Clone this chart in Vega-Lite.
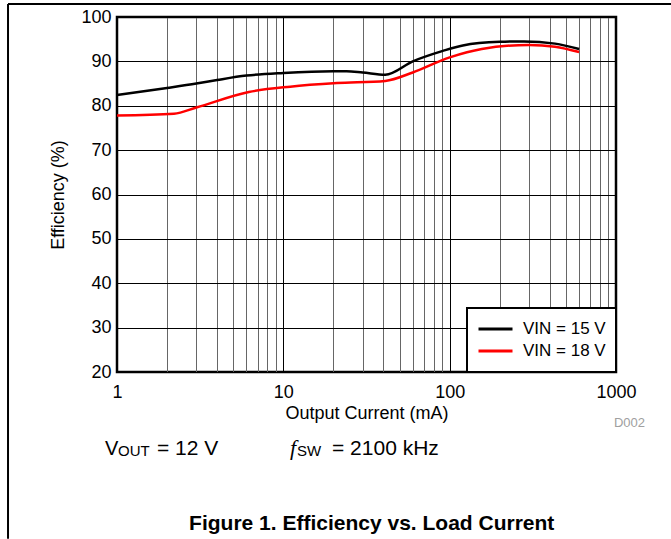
{
  "$schema": "https://vega.github.io/schema/vega-lite/v6.json",
  "width": 499,
  "height": 355,
  "autosize": {"type": "none"},
  "padding": {"left": 117, "top": 17, "right": 55, "bottom": 167},
  "background": "white",
  "config": {
    "view": {"stroke": "black", "strokeWidth": 2.5},
    "font": "Liberation Sans",
    "axis": {
      "labelFont": "Liberation Sans",
      "titleFont": "Liberation Sans",
      "labelFontSize": 18,
      "titleFontSize": 18,
      "titleFontWeight": "normal",
      "labelColor": "black",
      "titleColor": "black",
      "domain": false,
      "ticks": false
    }
  },
  "datasets": {
    "eff": [
      {"series": "VIN = 15 V", "current": 1, "efficiency": 82.4},
      {"series": "VIN = 15 V", "current": 2, "efficiency": 84.0},
      {"series": "VIN = 15 V", "current": 3, "efficiency": 85.0},
      {"series": "VIN = 15 V", "current": 4, "efficiency": 85.8},
      {"series": "VIN = 15 V", "current": 6, "efficiency": 86.8},
      {"series": "VIN = 15 V", "current": 10, "efficiency": 87.4},
      {"series": "VIN = 15 V", "current": 20, "efficiency": 87.8},
      {"series": "VIN = 15 V", "current": 24, "efficiency": 87.8},
      {"series": "VIN = 15 V", "current": 30, "efficiency": 87.5},
      {"series": "VIN = 15 V", "current": 41, "efficiency": 87.0},
      {"series": "VIN = 15 V", "current": 60, "efficiency": 90.0},
      {"series": "VIN = 15 V", "current": 90, "efficiency": 92.3},
      {"series": "VIN = 15 V", "current": 120, "efficiency": 93.6},
      {"series": "VIN = 15 V", "current": 200, "efficiency": 94.4},
      {"series": "VIN = 15 V", "current": 280, "efficiency": 94.5},
      {"series": "VIN = 15 V", "current": 430, "efficiency": 94.0},
      {"series": "VIN = 15 V", "current": 600, "efficiency": 92.8},
      {"series": "VIN = 18 V", "current": 1, "efficiency": 77.8},
      {"series": "VIN = 18 V", "current": 2.2, "efficiency": 78.2},
      {"series": "VIN = 18 V", "current": 3, "efficiency": 79.6},
      {"series": "VIN = 18 V", "current": 6.2, "efficiency": 83.1},
      {"series": "VIN = 18 V", "current": 11, "efficiency": 84.3},
      {"series": "VIN = 18 V", "current": 21, "efficiency": 85.1},
      {"series": "VIN = 18 V", "current": 41, "efficiency": 85.6},
      {"series": "VIN = 18 V", "current": 60, "efficiency": 87.5},
      {"series": "VIN = 18 V", "current": 100, "efficiency": 90.9},
      {"series": "VIN = 18 V", "current": 156, "efficiency": 92.8},
      {"series": "VIN = 18 V", "current": 300, "efficiency": 93.7},
      {"series": "VIN = 18 V", "current": 430, "efficiency": 93.3},
      {"series": "VIN = 18 V", "current": 600, "efficiency": 92.1}
    ]
  },
  "layer": [
    {
      "data": {"name": "eff"},
      "mark": {"type": "line", "strokeWidth": 2.5, "interpolate": "monotone"},
      "encoding": {
        "x": {
          "field": "current",
          "type": "quantitative",
          "scale": {"type": "log", "domain": [1, 1000]},
          "axis": {
            "title": "Output Current (mA)",
            "values": [1, 2, 3, 4, 5, 6, 7, 8, 9, 10, 20, 30, 40, 50, 60, 70, 80, 90, 100, 200, 300, 400, 500, 600, 700, 800, 900, 1000],
            "labelExpr": "datum.value == 1 || datum.value == 10 || datum.value == 100 || datum.value == 1000 ? format(datum.value, 'd') : ''",
            "labelFlush": false,
            "labelOverlap": false,
            "labelPadding": 11,
            "titlePadding": 3,
            "grid": true,
            "gridWidth": 1,
            "gridColor": {
              "condition": {"test": "datum.value == 1 || datum.value == 10 || datum.value == 100 || datum.value == 1000", "value": "black"},
              "value": "#666666"
            }
          }
        },
        "y": {
          "field": "efficiency",
          "type": "quantitative",
          "scale": {"domain": [20, 100]},
          "axis": {
            "title": "Efficiency (%)",
            "values": [20, 30, 40, 50, 60, 70, 80, 90, 100],
            "grid": true,
            "gridColor": "black",
            "gridWidth": 1,
            "labelPadding": 6,
            "titlePadding": 13
          }
        },
        "color": {
          "field": "series",
          "type": "nominal",
          "scale": {"domain": ["VIN = 15 V", "VIN = 18 V"], "range": ["black", "#ff0000"]},
          "legend": {
            "title": null,
            "orient": "bottom-right",
            "offset": 0,
            "fillColor": "white",
            "strokeColor": "black",
            "padding": 10,
            "symbolType": "stroke",
            "symbolSize": 1156,
            "symbolStrokeWidth": 3,
            "labelFont": "Liberation Sans",
            "labelFontSize": 17,
            "labelColor": "black",
            "labelOffset": 9,
            "clipHeight": 22,
            "rowPadding": 0,
            "encode": {"legend": {"update": {"strokeWidth": {"value": 2}}}}
          }
        }
      }
    },
    {
      "data": {"values": [{}]},
      "mark": {"type": "text", "text": "V", "align": "left", "baseline": "alphabetic", "dx": -12, "fontSize": 20, "font": "Liberation Sans", "color": "black"},
      "encoding": {"x": {"datum": 1, "type": "quantitative"}, "y": {"datum": 1.3, "type": "quantitative"}}
    },
    {
      "data": {"values": [{}]},
      "mark": {"type": "text", "text": "OUT", "align": "left", "baseline": "alphabetic", "dx": 1, "dy": 1, "fontSize": 15, "font": "Liberation Sans", "color": "black"},
      "encoding": {"x": {"datum": 1, "type": "quantitative"}, "y": {"datum": 1.3, "type": "quantitative"}}
    },
    {
      "data": {"values": [{}]},
      "mark": {"type": "text", "text": "= 12 V", "align": "left", "baseline": "alphabetic", "dx": 40, "fontSize": 21, "font": "Liberation Sans", "color": "black"},
      "encoding": {"x": {"datum": 1, "type": "quantitative"}, "y": {"datum": 1.3, "type": "quantitative"}}
    },
    {
      "data": {"values": [{}]},
      "mark": {"type": "text", "text": "f", "align": "left", "baseline": "alphabetic", "dx": 173, "fontSize": 22, "font": "Liberation Serif", "fontStyle": "italic", "color": "black"},
      "encoding": {"x": {"datum": 1, "type": "quantitative"}, "y": {"datum": 1.3, "type": "quantitative"}}
    },
    {
      "data": {"values": [{}]},
      "mark": {"type": "text", "text": "SW", "align": "left", "baseline": "alphabetic", "dx": 180, "dy": 1, "fontSize": 15, "font": "Liberation Sans", "color": "black"},
      "encoding": {"x": {"datum": 1, "type": "quantitative"}, "y": {"datum": 1.3, "type": "quantitative"}}
    },
    {
      "data": {"values": [{}]},
      "mark": {"type": "text", "text": "= 2100 kHz", "align": "left", "baseline": "alphabetic", "dx": 215, "fontSize": 21, "font": "Liberation Sans", "color": "black"},
      "encoding": {"x": {"datum": 1, "type": "quantitative"}, "y": {"datum": 1.3, "type": "quantitative"}}
    },
    {
      "data": {"values": [{}]},
      "mark": {"type": "text", "text": "D002", "align": "right", "baseline": "alphabetic", "dx": 29, "fontSize": 13, "font": "Liberation Sans", "color": "#a0a0a0"},
      "encoding": {"x": {"datum": 1000, "type": "quantitative"}, "y": {"datum": 7.6, "type": "quantitative"}}
    },
    {
      "data": {"values": [{}]},
      "mark": {"type": "text", "text": "Figure 1. Efficiency vs. Load Current", "align": "center", "baseline": "alphabetic", "fontSize": 21, "fontWeight": "bold", "font": "Liberation Sans", "color": "black"},
      "encoding": {"x": {"datum": 34, "type": "quantitative"}, "y": {"datum": -15.6, "type": "quantitative"}}
    },
    {
      "data": {"values": [{}]},
      "mark": {"type": "rule", "stroke": "black", "strokeWidth": 2},
      "encoding": {"x": {"datum": 0.2212, "type": "quantitative"}, "x2": {"datum": 2141}, "y": {"datum": 102.93, "type": "quantitative"}}
    },
    {
      "data": {"values": [{}]},
      "mark": {"type": "rule", "stroke": "black", "strokeWidth": 2},
      "encoding": {"x": {"datum": 0.2212, "type": "quantitative"}, "y": {"datum": 102.93, "type": "quantitative"}, "y2": {"datum": -17.6}}
    }
  ]
}
